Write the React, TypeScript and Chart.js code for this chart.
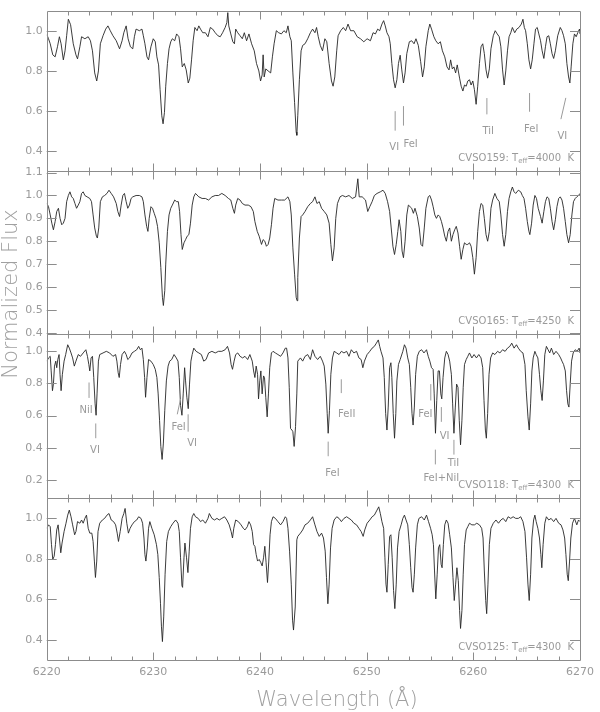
import { useEffect, useRef } from "react";
import { Chart, registerables } from "chart.js";

Chart.register(...registerables);

// ---------------- data ----------------
const waveMin = 6220;
const waveMax = 6270;
const xTickValues = [6220, 6230, 6240, 6250, 6260, 6270];

// CVSO159 (Teff = 4000 K)
const wave159 = [6220.02,6220.17,6220.33,6220.57,6220.79,6221.01,6221.19,6221.35,6221.56,6221.72,6221.87,6222.03,6222.24,6222.49,6222.74,6222.89,6223.11,6223.27,6223.58,6223.89,6224.10,6224.29,6224.50,6224.69,6224.85,6225.03,6225.28,6225.53,6225.74,6225.96,6226.21,6226.52,6226.83,6227.07,6227.23,6227.45,6227.63,6227.85,6228.07,6228.22,6228.38,6228.69,6228.93,6229.06,6229.21,6229.40,6229.55,6229.77,6229.99,6230.18,6230.33,6230.49,6230.63,6230.79,6230.91,6231.04,6231.16,6231.32,6231.47,6231.63,6231.78,6232.00,6232.18,6232.40,6232.55,6232.71,6232.90,6233.08,6233.27,6233.42,6233.58,6233.73,6233.89,6234.10,6234.26,6234.42,6234.63,6234.88,6235.12,6235.34,6235.56,6235.80,6236.05,6236.27,6236.49,6236.73,6236.89,6236.98,6237.07,6237.26,6237.45,6237.60,6237.72,6237.91,6238.13,6238.34,6238.53,6238.74,6238.96,6239.21,6239.46,6239.67,6239.89,6240.05,6240.20,6240.29,6240.39,6240.54,6240.76,6241.00,6241.16,6241.32,6241.53,6241.75,6242.00,6242.24,6242.46,6242.62,6242.80,6242.93,6243.08,6243.24,6243.39,6243.45,6243.54,6243.69,6243.85,6244.00,6244.22,6244.47,6244.72,6244.93,6245.15,6245.30,6245.46,6245.65,6245.86,6246.08,6246.26,6246.48,6246.70,6246.85,6247.01,6247.19,6247.32,6247.56,6247.81,6248.03,6248.25,6248.49,6248.80,6249.11,6249.42,6249.73,6250.04,6250.35,6250.60,6250.82,6251.03,6251.22,6251.43,6251.59,6251.74,6251.90,6252.09,6252.21,6252.36,6252.52,6252.67,6252.83,6252.98,6253.14,6253.29,6253.45,6253.60,6253.76,6254.00,6254.22,6254.44,6254.62,6254.84,6255.06,6255.24,6255.40,6255.55,6255.77,6255.92,6256.08,6256.30,6256.48,6256.70,6256.91,6257.10,6257.32,6257.53,6257.72,6257.87,6258.03,6258.18,6258.34,6258.49,6258.71,6258.86,6259.02,6259.17,6259.33,6259.48,6259.64,6259.79,6259.95,6260.10,6260.26,6260.41,6260.57,6260.72,6260.88,6261.03,6261.19,6261.34,6261.50,6261.65,6261.87,6262.05,6262.24,6262.43,6262.58,6262.74,6262.89,6263.04,6263.20,6263.35,6263.51,6263.66,6263.88,6264.07,6264.28,6264.50,6264.65,6264.78,6264.90,6265.06,6265.21,6265.37,6265.52,6265.68,6265.83,6265.99,6266.14,6266.30,6266.45,6266.61,6266.76,6266.91,6267.07,6267.22,6267.38,6267.53,6267.69,6267.91,6268.15,6268.31,6268.46,6268.62,6268.77,6268.93,6269.05,6269.17,6269.33,6269.48,6269.64,6269.79,6269.95,6270.00];
const flux159 = [0.98,0.96,0.935,0.88,0.87,0.92,0.97,0.935,0.855,0.90,0.975,1.057,1.03,0.935,0.88,0.86,0.92,0.97,0.96,0.97,0.95,0.90,0.79,0.75,0.80,0.935,0.975,1.008,1.024,1.0,0.975,0.95,0.91,0.95,0.99,1.024,0.96,0.92,0.91,0.97,1.008,1.0,1.008,0.975,0.935,0.87,0.855,0.92,0.96,0.945,0.87,0.83,0.707,0.577,0.537,0.594,0.724,0.837,0.91,0.945,0.96,0.95,0.984,0.97,0.91,0.82,0.837,0.805,0.74,0.764,0.855,0.95,1.016,1.0,1.024,1.008,0.99,0.99,0.97,1.016,1.008,0.99,0.975,0.97,0.99,1.016,1.04,1.09,1.024,0.984,0.945,0.935,1.008,0.99,0.975,0.96,0.99,0.95,0.984,0.935,0.90,0.837,0.80,0.75,0.78,0.88,0.77,0.81,0.80,0.79,0.87,0.935,1.0,0.99,0.984,1.0,0.99,1.024,0.97,0.95,0.79,0.642,0.496,0.48,0.577,0.756,0.90,0.927,0.935,0.96,0.99,1.008,0.99,1.016,0.97,0.927,0.90,0.96,0.945,0.837,0.75,0.724,0.77,0.90,0.975,1.0,1.016,1.0,1.033,1.0,1.0,0.97,0.96,0.945,0.96,0.95,0.99,0.984,1.008,1.0,1.033,1.05,1.024,0.99,0.97,0.935,0.837,0.756,0.716,0.756,0.837,0.878,0.805,0.74,0.79,0.886,0.945,0.95,0.935,0.96,0.927,0.846,0.77,0.82,0.92,1.0,1.033,1.008,0.97,0.95,0.935,0.945,0.90,0.87,0.82,0.805,0.855,0.81,0.82,0.79,0.83,0.764,0.724,0.70,0.73,0.724,0.75,0.756,0.73,0.75,0.707,0.634,0.724,0.837,0.92,0.935,0.886,0.805,0.764,0.81,0.91,0.975,1.0,0.984,0.97,0.92,0.805,0.73,0.80,0.90,0.97,0.99,1.016,0.99,1.008,1.016,1.033,1.057,1.016,1.0,0.935,0.855,0.81,0.855,0.935,1.008,1.016,0.984,0.95,0.90,0.862,0.92,0.97,0.975,0.935,0.886,0.862,0.90,0.975,1.016,1.0,0.975,0.935,0.837,0.77,0.74,0.82,0.935,0.984,0.97,0.99,1.008,0.984];

// CVSO165 (Teff = 4250 K)
const wave165 = [6220.02,6220.17,6220.33,6220.48,6220.63,6220.79,6220.94,6221.10,6221.25,6221.41,6221.56,6221.72,6221.87,6222.03,6222.18,6222.34,6222.49,6222.65,6222.80,6222.96,6223.11,6223.27,6223.42,6223.58,6223.79,6224.04,6224.20,6224.35,6224.50,6224.66,6224.75,6224.88,6225.03,6225.22,6225.43,6225.65,6225.84,6226.05,6226.27,6226.52,6226.67,6226.83,6226.98,6227.14,6227.29,6227.45,6227.60,6227.76,6227.91,6228.07,6228.38,6228.69,6228.93,6229.06,6229.21,6229.37,6229.49,6229.61,6229.77,6229.92,6230.08,6230.24,6230.39,6230.55,6230.70,6230.85,6230.94,6231.07,6231.16,6231.32,6231.47,6231.63,6231.78,6232.00,6232.18,6232.34,6232.46,6232.59,6232.71,6232.87,6233.02,6233.17,6233.33,6233.48,6233.64,6233.79,6233.95,6234.26,6234.57,6234.88,6235.18,6235.49,6235.80,6236.11,6236.42,6236.73,6237.04,6237.26,6237.45,6237.60,6237.72,6237.91,6238.13,6238.34,6238.59,6238.90,6239.15,6239.37,6239.52,6239.74,6239.92,6240.14,6240.29,6240.45,6240.60,6240.76,6240.91,6241.07,6241.22,6241.38,6241.68,6242.00,6242.31,6242.62,6242.80,6242.93,6243.08,6243.24,6243.39,6243.47,6243.54,6243.69,6243.85,6244.00,6244.22,6244.47,6244.72,6244.93,6245.15,6245.34,6245.55,6245.77,6246.02,6246.26,6246.48,6246.64,6246.79,6246.95,6247.10,6247.26,6247.50,6247.72,6248.03,6248.34,6248.65,6248.96,6249.17,6249.30,6249.58,6249.89,6250.10,6250.29,6250.51,6250.72,6250.97,6251.28,6251.53,6251.74,6251.96,6252.15,6252.30,6252.46,6252.61,6252.77,6252.92,6253.04,6253.20,6253.32,6253.45,6253.60,6253.76,6253.91,6254.07,6254.22,6254.38,6254.53,6254.75,6254.93,6255.09,6255.24,6255.40,6255.55,6255.77,6255.92,6256.08,6256.23,6256.39,6256.54,6256.70,6256.85,6257.01,6257.16,6257.32,6257.47,6257.63,6257.78,6257.94,6258.09,6258.25,6258.40,6258.56,6258.71,6258.86,6259.02,6259.17,6259.33,6259.48,6259.64,6259.79,6259.95,6260.10,6260.26,6260.41,6260.57,6260.72,6260.88,6261.03,6261.19,6261.34,6261.50,6261.65,6261.81,6262.02,6262.21,6262.43,6262.58,6262.74,6262.89,6263.04,6263.20,6263.35,6263.51,6263.66,6263.82,6263.97,6264.22,6264.44,6264.59,6264.75,6264.90,6265.06,6265.21,6265.30,6265.46,6265.61,6265.77,6265.92,6266.08,6266.30,6266.45,6266.61,6266.76,6266.91,6267.07,6267.22,6267.38,6267.53,6267.69,6267.84,6268.00,6268.15,6268.31,6268.46,6268.62,6268.77,6268.93,6269.08,6269.24,6269.39,6269.55,6269.70,6269.86,6270.00];
const flux165 = [0.965,0.951,0.915,0.879,0.85,0.886,0.93,0.944,0.90,0.872,0.879,0.90,0.973,1.0,1.016,0.994,0.987,0.965,0.944,0.958,0.973,1.009,1.016,1.0,0.994,0.987,0.973,0.915,0.858,0.822,0.814,0.858,0.973,0.994,1.0,1.009,1.023,1.009,0.994,0.965,0.93,0.908,0.958,1.0,1.009,0.973,0.944,0.958,0.987,0.994,1.0,1.0,0.994,0.973,0.915,0.865,0.843,0.90,0.951,0.944,0.922,0.90,0.865,0.793,0.685,0.555,0.519,0.584,0.70,0.843,0.915,0.944,0.958,0.98,0.973,0.973,0.93,0.829,0.764,0.793,0.807,0.822,0.829,0.879,0.958,0.994,1.009,0.994,0.987,0.987,0.98,0.994,1.0,1.0,1.009,1.0,0.987,0.98,0.944,0.922,0.958,0.987,0.98,0.965,0.958,0.958,0.951,0.93,0.886,0.843,0.822,0.786,0.807,0.80,0.778,0.786,0.814,0.872,0.944,0.987,0.98,0.98,0.98,0.994,0.973,0.915,0.771,0.656,0.555,0.54,0.642,0.814,0.908,0.915,0.93,0.951,0.965,0.973,0.994,0.965,0.973,0.944,0.93,0.915,0.879,0.786,0.714,0.771,0.90,0.965,0.994,1.0,0.994,1.0,0.987,0.994,1.073,0.994,0.994,0.98,0.93,0.951,0.973,1.0,1.009,1.016,1.023,1.009,0.973,0.93,0.858,0.778,0.742,0.786,0.843,0.894,0.843,0.757,0.728,0.80,0.915,0.958,0.951,0.944,0.922,0.944,0.908,0.858,0.786,0.778,0.858,0.944,0.994,1.0,0.98,0.951,0.915,0.90,0.915,0.908,0.886,0.858,0.822,0.80,0.843,0.858,0.80,0.829,0.85,0.865,0.836,0.778,0.721,0.764,0.793,0.786,0.786,0.793,0.778,0.728,0.656,0.728,0.843,0.93,0.965,0.958,0.90,0.829,0.80,0.843,0.944,0.98,1.009,0.987,0.973,0.915,0.829,0.778,0.829,0.93,0.987,1.016,1.037,1.016,1.009,1.023,1.016,1.0,0.987,0.944,0.886,0.843,0.829,0.879,0.958,1.0,0.987,0.944,0.908,0.879,0.93,0.973,0.994,0.987,0.944,0.886,0.85,0.894,0.951,0.987,0.994,0.98,0.944,0.886,0.829,0.793,0.829,0.915,0.973,0.987,0.994,1.0,1.009];

// CVSO118 (Teff = 4300 K)
const wave118 = [6220.02,6220.17,6220.33,6220.42,6220.54,6220.63,6220.73,6220.85,6220.94,6221.04,6221.16,6221.25,6221.35,6221.47,6221.63,6221.78,6221.97,6222.12,6222.28,6222.43,6222.59,6222.74,6222.96,6223.17,6223.42,6223.67,6223.82,6223.95,6224.04,6224.16,6224.29,6224.41,6224.54,6224.63,6224.72,6224.85,6224.97,6225.28,6225.59,6225.90,6226.21,6226.46,6226.58,6226.70,6226.80,6226.92,6227.07,6227.29,6227.45,6227.60,6227.76,6228.00,6228.22,6228.44,6228.62,6228.78,6228.93,6229.06,6229.18,6229.27,6229.40,6229.55,6229.77,6229.99,6230.18,6230.33,6230.45,6230.58,6230.70,6230.82,6230.94,6231.07,6231.22,6231.38,6231.53,6231.72,6231.94,6232.15,6232.31,6232.43,6232.55,6232.68,6232.80,6232.93,6233.02,6233.14,6233.27,6233.39,6233.52,6233.64,6233.79,6234.01,6234.26,6234.50,6234.72,6234.94,6235.18,6235.49,6235.80,6236.11,6236.42,6236.73,6236.95,6237.14,6237.29,6237.42,6237.57,6237.72,6237.91,6238.13,6238.37,6238.59,6238.84,6239.05,6239.27,6239.40,6239.52,6239.64,6239.77,6239.86,6239.98,6240.08,6240.20,6240.33,6240.42,6240.54,6240.67,6240.79,6240.91,6241.07,6241.22,6241.44,6241.68,6241.93,6242.15,6242.37,6242.49,6242.62,6242.74,6242.86,6242.99,6243.08,6243.20,6243.33,6243.45,6243.54,6243.79,6244.00,6244.22,6244.47,6244.72,6244.93,6245.15,6245.40,6245.65,6245.86,6246.02,6246.17,6246.30,6246.39,6246.51,6246.64,6246.79,6246.95,6247.19,6247.41,6247.63,6247.87,6248.12,6248.34,6248.56,6248.80,6249.05,6249.27,6249.48,6249.64,6249.79,6250.04,6250.29,6250.51,6250.72,6250.91,6251.09,6251.22,6251.34,6251.53,6251.65,6251.78,6251.90,6252.02,6252.15,6252.27,6252.36,6252.49,6252.61,6252.73,6252.83,6252.98,6253.14,6253.39,6253.54,6253.69,6253.85,6254.00,6254.13,6254.25,6254.35,6254.47,6254.59,6254.75,6254.93,6255.15,6255.37,6255.61,6255.77,6255.92,6256.08,6256.23,6256.33,6256.45,6256.57,6256.70,6256.82,6256.95,6257.04,6257.16,6257.32,6257.47,6257.63,6257.78,6257.94,6258.06,6258.18,6258.31,6258.43,6258.56,6258.68,6258.80,6258.93,6259.05,6259.17,6259.33,6259.48,6259.64,6259.86,6260.07,6260.29,6260.51,6260.72,6260.88,6261.00,6261.13,6261.22,6261.34,6261.47,6261.62,6261.81,6262.02,6262.27,6262.49,6262.74,6262.98,6263.20,6263.42,6263.60,6263.82,6264.04,6264.22,6264.44,6264.65,6264.84,6264.96,6265.12,6265.24,6265.37,6265.49,6265.61,6265.77,6265.89,6266.05,6266.20,6266.33,6266.45,6266.57,6266.70,6266.85,6267.01,6267.16,6267.32,6267.53,6267.75,6268.00,6268.18,6268.31,6268.46,6268.62,6268.74,6268.86,6268.96,6269.08,6269.21,6269.36,6269.55,6269.73,6269.92,6270.00];
const flux118 = [0.939,0.959,0.969,0.878,0.755,0.796,0.908,0.939,0.898,0.949,0.98,0.857,0.755,0.857,0.939,0.98,1.041,1.02,0.99,0.959,0.908,0.939,0.98,0.969,0.99,1.01,0.969,0.918,0.878,0.959,0.969,0.837,0.673,0.602,0.735,0.939,0.98,0.99,1.0,0.99,0.969,0.98,0.939,0.867,0.837,0.918,0.98,1.0,0.98,0.949,0.959,0.99,1.0,1.01,1.031,1.01,1.02,0.949,0.837,0.714,0.837,0.949,0.939,0.918,0.888,0.837,0.735,0.571,0.408,0.327,0.429,0.633,0.816,0.908,0.939,0.949,0.98,0.959,0.939,0.837,0.663,0.602,0.735,0.898,0.816,0.714,0.643,0.796,0.939,0.98,1.02,1.0,0.99,0.98,0.939,0.949,0.99,1.0,0.99,1.0,1.0,1.01,1.031,0.99,0.918,0.888,0.939,0.98,0.99,0.969,0.959,0.969,0.949,0.98,0.939,0.878,0.837,0.908,0.857,0.704,0.816,0.878,0.735,0.847,0.837,0.714,0.592,0.735,0.898,0.99,1.0,0.99,0.98,0.969,0.99,1.02,1.02,0.959,0.776,0.52,0.51,0.50,0.408,0.531,0.735,0.939,0.959,0.939,0.969,0.98,0.949,1.01,0.969,0.949,0.969,0.939,0.908,0.796,0.612,0.49,0.633,0.857,0.959,1.0,0.99,0.98,1.0,0.99,1.0,0.969,1.01,0.99,1.0,0.959,0.949,0.898,0.939,0.98,1.0,1.02,1.031,1.051,1.071,1.031,1.0,0.959,0.837,0.612,0.51,0.653,0.898,0.929,0.837,0.612,0.459,0.612,0.816,0.918,0.949,1.0,1.041,1.02,0.959,0.918,0.776,0.612,0.541,0.653,0.857,0.969,1.0,1.01,0.99,1.01,0.969,0.939,0.898,0.888,0.735,0.49,0.694,0.878,0.878,0.735,0.704,0.837,0.959,1.0,0.98,0.939,0.857,0.673,0.49,0.653,0.796,0.776,0.571,0.418,0.571,0.776,0.918,0.949,0.969,0.99,0.959,0.98,0.959,0.98,0.959,0.898,0.694,0.51,0.459,0.612,0.857,0.959,0.99,0.98,1.0,0.99,1.01,1.0,1.02,1.031,1.051,1.02,1.041,1.02,1.0,0.99,0.918,0.755,0.592,0.51,0.673,0.878,0.959,1.0,0.98,0.959,0.857,0.755,0.694,0.816,0.98,1.031,1.01,0.99,1.02,0.98,1.0,0.98,0.959,0.939,0.918,0.878,0.755,0.673,0.653,0.796,0.939,0.99,1.01,1.0,1.02,0.99];

// CVSO125 (Teff = 4300 K)
const wave125 = [6220.02,6220.17,6220.33,6220.45,6220.57,6220.70,6220.82,6220.94,6221.07,6221.19,6221.32,6221.44,6221.63,6221.81,6221.97,6222.12,6222.28,6222.43,6222.62,6222.74,6222.89,6223.11,6223.27,6223.42,6223.58,6223.73,6223.89,6224.04,6224.23,6224.35,6224.47,6224.57,6224.69,6224.81,6224.97,6225.22,6225.43,6225.65,6225.84,6226.05,6226.27,6226.46,6226.61,6226.73,6226.89,6227.07,6227.23,6227.35,6227.51,6227.66,6227.82,6228.00,6228.22,6228.44,6228.62,6228.84,6228.99,6229.12,6229.21,6229.30,6229.43,6229.55,6229.67,6229.86,6230.08,6230.29,6230.42,6230.55,6230.67,6230.76,6230.85,6230.97,6231.10,6231.25,6231.41,6231.63,6231.84,6232.09,6232.31,6232.43,6232.55,6232.68,6232.74,6232.87,6232.96,6233.11,6233.24,6233.36,6233.48,6233.64,6233.79,6233.95,6234.20,6234.42,6234.63,6234.88,6235.12,6235.25,6235.49,6235.74,6235.96,6236.18,6236.42,6236.67,6236.89,6237.11,6237.29,6237.42,6237.54,6237.72,6237.97,6238.22,6238.43,6238.59,6238.81,6238.96,6239.12,6239.27,6239.40,6239.52,6239.64,6239.77,6239.92,6240.08,6240.20,6240.33,6240.45,6240.57,6240.70,6240.82,6240.94,6241.07,6241.22,6241.44,6241.68,6241.93,6242.15,6242.37,6242.49,6242.62,6242.77,6242.93,6243.05,6243.14,6243.30,6243.45,6243.54,6243.79,6244.00,6244.22,6244.47,6244.72,6244.93,6245.15,6245.34,6245.55,6245.77,6245.95,6246.11,6246.23,6246.36,6246.48,6246.61,6246.76,6246.95,6247.19,6247.41,6247.63,6247.87,6248.12,6248.34,6248.56,6248.80,6249.05,6249.27,6249.48,6249.67,6249.82,6250.04,6250.29,6250.51,6250.72,6250.97,6251.13,6251.28,6251.43,6251.59,6251.71,6251.81,6251.90,6252.02,6252.15,6252.27,6252.39,6252.52,6252.64,6252.77,6252.89,6253.04,6253.23,6253.39,6253.54,6253.69,6253.85,6254.00,6254.13,6254.25,6254.35,6254.47,6254.59,6254.75,6254.90,6255.15,6255.40,6255.61,6255.80,6255.99,6256.14,6256.26,6256.36,6256.48,6256.61,6256.73,6256.85,6256.98,6257.07,6257.19,6257.32,6257.47,6257.63,6257.78,6257.94,6258.09,6258.21,6258.34,6258.46,6258.59,6258.71,6258.80,6258.93,6259.05,6259.17,6259.33,6259.48,6259.64,6259.86,6260.10,6260.32,6260.57,6260.78,6260.91,6261.03,6261.16,6261.25,6261.37,6261.50,6261.65,6261.87,6262.12,6262.36,6262.58,6262.80,6263.04,6263.26,6263.51,6263.73,6263.97,6264.22,6264.44,6264.65,6264.84,6264.99,6265.12,6265.24,6265.37,6265.49,6265.65,6265.77,6265.89,6266.05,6266.20,6266.33,6266.42,6266.54,6266.70,6266.85,6267.07,6267.29,6267.53,6267.75,6268.00,6268.22,6268.40,6268.56,6268.68,6268.80,6268.90,6269.02,6269.14,6269.30,6269.48,6269.70,6269.86,6270.00];
const flux125 = [0.951,0.968,0.959,0.87,0.797,0.813,0.87,0.943,0.968,0.903,0.83,0.878,0.935,0.976,1.016,1.041,1.008,0.968,0.919,0.935,0.984,0.976,0.992,0.976,1.0,1.016,0.951,0.927,0.927,0.886,0.789,0.708,0.789,0.935,0.976,0.992,1.0,1.016,1.024,0.992,0.984,0.968,0.927,0.886,0.935,1.0,1.024,1.049,0.976,0.927,0.951,0.968,0.984,0.992,1.008,1.0,0.976,0.903,0.821,0.789,0.854,0.951,0.984,0.951,0.919,0.87,0.821,0.708,0.578,0.464,0.391,0.513,0.724,0.886,0.935,0.959,0.976,0.992,0.976,0.935,0.805,0.667,0.659,0.805,0.878,0.805,0.732,0.838,0.951,1.008,1.024,1.008,1.0,0.984,0.992,0.976,1.0,1.024,1.0,0.992,1.0,0.992,1.0,1.008,0.992,0.968,0.935,0.903,0.951,0.992,0.984,0.968,0.951,0.943,0.959,0.984,0.968,0.935,0.87,0.862,0.821,0.789,0.797,0.781,0.765,0.805,0.862,0.781,0.683,0.789,0.919,0.984,1.008,1.0,0.984,0.968,0.984,1.008,1.0,0.951,0.838,0.675,0.497,0.448,0.562,0.894,0.911,0.927,0.943,0.968,0.976,0.992,1.008,0.968,0.935,0.911,0.927,0.903,0.838,0.708,0.578,0.675,0.854,0.951,0.992,1.008,1.0,0.984,1.0,1.008,1.0,0.992,0.976,0.968,0.951,0.935,0.911,0.943,0.976,0.992,1.008,1.016,1.041,1.057,1.024,0.984,0.951,0.805,0.675,0.635,0.773,0.911,0.919,0.805,0.643,0.554,0.675,0.854,0.935,0.968,1.0,1.016,0.992,0.968,0.87,0.756,0.659,0.635,0.724,0.854,0.968,1.0,1.008,0.992,1.016,0.984,0.951,0.919,0.87,0.74,0.602,0.724,0.854,0.87,0.773,0.756,0.87,0.968,0.992,0.976,0.919,0.854,0.708,0.594,0.675,0.756,0.692,0.545,0.456,0.545,0.724,0.87,0.943,0.959,0.976,0.968,0.968,0.976,0.968,0.951,0.903,0.74,0.594,0.529,0.675,0.87,0.951,0.976,0.992,0.976,0.992,1.0,0.984,1.008,1.0,1.008,1.0,1.0,1.008,0.984,0.935,0.805,0.675,0.594,0.724,0.903,0.992,1.016,0.984,0.951,0.903,0.821,0.756,0.87,0.976,1.008,0.992,1.0,0.984,1.0,0.976,0.968,0.943,0.903,0.821,0.724,0.692,0.789,0.903,0.976,1.0,0.968,0.992,0.984];

// panel settings (top to bottom)
const starNames = ["CVSO159", "CVSO165", "CVSO118", "CVSO125"];
const starTeff = [4000, 4250, 4300, 4300];
const yMins = [0.3, 0.393, 0.086, 0.3];
const yMaxs = [1.1, 1.105, 1.106, 1.1];
const yTicks159 = [0.4, 0.6, 0.8, 1.0];
const yTicks165 = [0.4, 0.5, 0.6, 0.7, 0.8, 0.9, 1.0, 1.1];
const yTicks118 = [0.2, 0.4, 0.6, 0.8, 1.0];
const yTicks125 = [0.4, 0.6, 0.8, 1.0];

// line identifications: [text, wavelength, flux]
const idText159: [string, number, number][] = [["VI", 6252.58, 0.422], ["FeI", 6254.12, 0.435], ["TiI", 6261.39, 0.5], ["FeI", 6265.43, 0.509], ["VI", 6268.35, 0.475]];
const idMark159 = [[6252.67, 0.6, 6252.67, 0.503], [6253.45, 0.625, 6253.45, 0.528], [6261.27, 0.665, 6261.27, 0.584], [6265.27, 0.69, 6265.27, 0.597], [6268.67, 0.666, 6268.21, 0.56]];
const idText118: [string, number, number][] = [["NiI", 6223.7, 0.63], ["VI", 6224.53, 0.381], ["FeI", 6232.37, 0.526], ["VI", 6233.63, 0.424], ["FeI", 6246.79, 0.243], ["FeII", 6248.13, 0.61], ["FeI", 6255.5, 0.61], ["VI", 6257.31, 0.471], ["TiI", 6258.13, 0.304], ["FeI+NiI", 6257.0, 0.206]];
const idMark118 = [[6223.97, 0.806, 6223.97, 0.71], [6224.6, 0.551, 6224.6, 0.459], [6232.55, 0.704, 6232.24, 0.608], [6233.26, 0.608, 6233.26, 0.5], [6246.39, 0.438, 6246.39, 0.347], [6247.62, 0.826, 6247.62, 0.74], [6256.01, 0.796, 6256.01, 0.694], [6257.0, 0.653, 6257.0, 0.561], [6258.18, 0.449, 6258.18, 0.357], [6256.44, 0.388, 6256.44, 0.296]];

// ---------------- styling ----------------
const FONT = '"DejaVu Sans", sans-serif';
const TEXT = "#9a9a9a";
const AXIS = "#8c8c8c";
const LINE = "#262626";

const panelIds = ["y159", "y165", "y118", "y125"];
const panelTicks = [yTicks159, yTicks165, yTicks118, yTicks125];
const panelWeights = [163, 165, 166, 164];
const panelWaves = [wave159, wave165, wave118, wave125];
const panelFluxes = [flux159, flux165, flux118, flux125];
const panelIdText = [idText159, [], idText118, []] as [string, number, number][][];
const panelIdMark = [idMark159, [], idMark118, []] as number[][][];

const decorPlugin = {
  id: "decor",
  afterDatasetsDraw(chart: any) {
    const { ctx, chartArea: ca, scales } = chart;
    const xs = scales.x;
    const L = ca.left, R = ca.right;
    ctx.save();
    ctx.lineWidth = 1;
    panelIds.forEach((id, i) => {
      const ys = scales[id];
      const top = Math.round(ys.top) + 0.5;
      const bot = Math.round(ys.bottom) + 0.5;
      ctx.strokeStyle = AXIS;
      ctx.beginPath();
      ctx.rect(Math.round(L) + 0.5, top, Math.round(R) - Math.round(L), bot - top);
      for (let w = waveMin + 2; w < waveMax; w += 2) {
        const px = Math.round(xs.getPixelForValue(w)) + 0.5;
        const len = w % 10 === 0 ? 8 : 4;
        ctx.moveTo(px, top); ctx.lineTo(px, top + len);
        ctx.moveTo(px, bot); ctx.lineTo(px, bot - len);
      }
      panelTicks[i].forEach((v) => {
        const py = Math.round(ys.getPixelForValue(v)) + 0.5;
        ctx.moveTo(L, py); ctx.lineTo(L + 10, py);
        ctx.moveTo(R, py); ctx.lineTo(R - 10, py);
      });
      ctx.stroke();

      ctx.strokeStyle = TEXT;
      ctx.beginPath();
      panelIdMark[i].forEach((m) => {
        ctx.moveTo(xs.getPixelForValue(m[0]), ys.getPixelForValue(m[1]));
        ctx.lineTo(xs.getPixelForValue(m[2]), ys.getPixelForValue(m[3]));
      });
      ctx.stroke();

      ctx.fillStyle = TEXT;
      ctx.font = `10px ${FONT}`;
      ctx.textAlign = "center";
      ctx.textBaseline = "middle";
      panelIdText[i].forEach((t) => {
        ctx.fillText(t[0], xs.getPixelForValue(t[1]), ys.getPixelForValue(t[2]));
      });

      const part1 = `${starNames[i]}: T`;
      const sub = "eff";
      const part2 = `=${starTeff[i]}  K`;
      ctx.textAlign = "left";
      ctx.textBaseline = "alphabetic";
      ctx.font = `10px ${FONT}`;
      const w1 = ctx.measureText(part1).width;
      const w3 = ctx.measureText(part2).width;
      ctx.font = `7px ${FONT}`;
      const w2 = ctx.measureText(sub).width;
      const base = ys.bottom - 10;
      let x0 = R - 6 - (w1 + w2 + w3);
      ctx.font = `10px ${FONT}`;
      ctx.fillText(part1, x0, base);
      x0 += w1;
      ctx.font = `7px ${FONT}`;
      ctx.fillText(sub, x0, base + 2);
      x0 += w2;
      ctx.font = `10px ${FONT}`;
      ctx.fillText(part2, x0, base);
    });

    ctx.fillStyle = "#a0a0a0";
    ctx.font = `200 21px ${FONT}`;
    ctx.textAlign = "center";
    ctx.textBaseline = "alphabetic";
    ctx.fillText("Wavelength (Å)", 337, 706);
    ctx.save();
    ctx.translate(17, 294);
    ctx.rotate(-Math.PI / 2);
    ctx.fillText("Normalized Flux", 0, 0);
    ctx.restore();
    ctx.restore();
  },
};

export default function App() {
  const ref = useRef<HTMLCanvasElement | null>(null);
  useEffect(() => {
    if (!ref.current) return;
    Chart.defaults.font.family = FONT;
    const scales: any = {
      x: {
        type: "linear",
        position: "bottom",
        min: waveMin,
        max: waveMax,
        grid: { display: false, drawTicks: false },
        border: { display: false },
        ticks: { color: TEXT, font: { size: 11 }, padding: 6, autoSkip: false, maxRotation: 0, callback: (v: any) => String(v) },
        afterBuildTicks: (s: any) => { s.ticks = xTickValues.map((v) => ({ value: v })); },
        afterFit: (s: any) => { s.height = 52; },
      },
    };
    // bottom panel first: stacked left axes are placed in reverse order
    for (let i = panelIds.length - 1; i >= 0; i--) {
      const tv = panelTicks[i];
      scales[panelIds[i]] = {
        type: "linear",
        position: "left",
        stack: "panels",
        stackWeight: panelWeights[i],
        min: yMins[i],
        max: yMaxs[i],
        grid: { display: false, drawTicks: false },
        border: { display: false },
        ticks: { color: TEXT, font: { size: 11 }, padding: 4, autoSkip: false, callback: (v: any) => Number(v).toFixed(1) },
        afterBuildTicks: (s: any) => { s.ticks = tv.map((v) => ({ value: v })); },
        afterFit: (s: any) => { s.width = 46.7; },
      };
    }
    const datasets = panelIds.map((id, i) => ({
      label: starNames[i],
      data: panelWaves[i].map((w, k) => ({ x: w, y: panelFluxes[i][k] })),
      xAxisID: "x",
      yAxisID: id,
      borderColor: LINE,
      borderWidth: 0.9,
      pointRadius: 0,
      tension: 0,
      fill: false,
    }));
    const chart = new Chart(ref.current, {
      type: "line",
      data: { datasets },
      options: {
        animation: false,
        responsive: false,
        devicePixelRatio: 1,
        layout: { padding: { left: 0, right: 14.5, top: 3, bottom: 0 } },
        plugins: { legend: { display: false }, tooltip: { enabled: false } },
        scales,
      },
      plugins: [decorPlugin],
    } as any);
    return () => chart.destroy();
  }, []);
  return (
    <div style={{ position: "absolute", left: 0, top: 0, width: 600, height: 712, background: "#fff" }}>
      <canvas ref={ref} width={600} height={712} style={{ width: 600, height: 712 }} />
    </div>
  );
}
